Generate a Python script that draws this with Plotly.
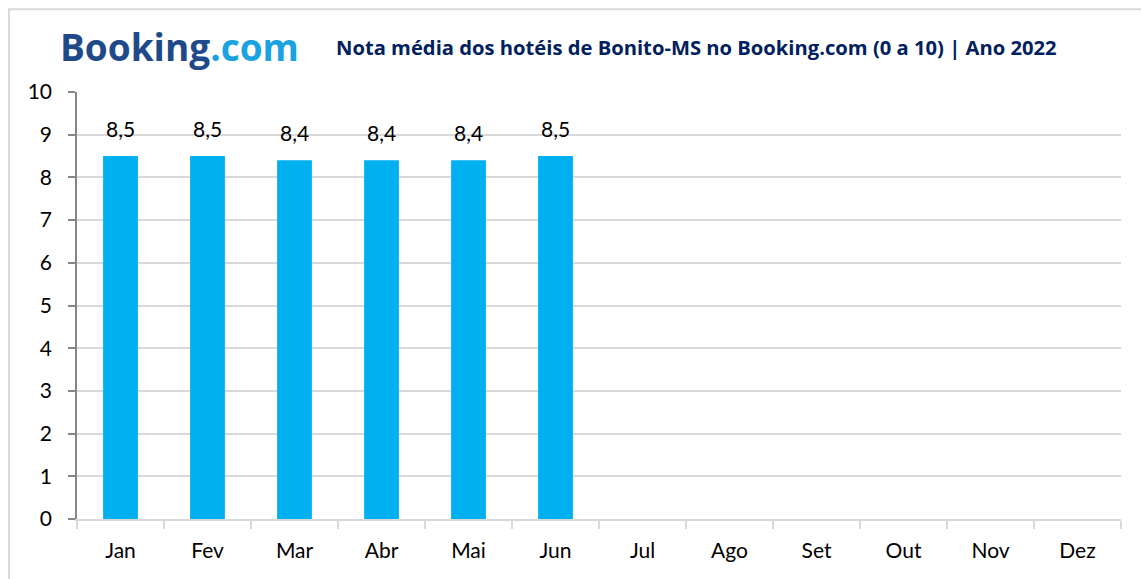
import plotly.graph_objects as go

months = ["Jan", "Fev", "Mar", "Abr", "Mai", "Jun", "Jul", "Ago", "Set", "Out", "Nov", "Dez"]
scores = [8.5, 8.5, 8.4, 8.4, 8.4, 8.5, None, None, None, None, None, None]
y_ticks = list(range(0, 11))
title_text = "Nota média dos hotéis de Bonito-MS no Booking.com (0 a 10) | Ano 2022"

FONT = "Lato"

fig = go.Figure()
fig.add_trace(go.Bar(
    x=months, y=scores,
    marker=dict(color="#00b0f0", line=dict(width=0)),
    width=0.4,
    hoverinfo="x+y",
))

annotations = []
for m, v in zip(months, scores):
    if v is None:
        continue
    annotations.append(dict(
        x=m, y=v, xref="x", yref="y",
        text=f"{v:.1f}".replace(".", ","),
        showarrow=False, yanchor="bottom", yshift=13,
        font=dict(family=FONT, size=21, color="#000000"),
    ))

# logo
annotations.append(dict(
    xref="paper", yref="paper", x=-0.018, y=1.106, xanchor="left", yanchor="middle",
    text="<b><span style='color:#1f4a8a'>Booking</span><span style='color:#1aa3e0'>.com</span></b>",
    showarrow=False, font=dict(family="Open Sans", size=37),
))
# title
annotations.append(dict(
    xref="paper", yref="paper", x=0.246, y=1.105, xanchor="left", yanchor="middle",
    text="<b>" + title_text + "</b>",
    showarrow=False, font=dict(family="Open Sans", size=20.2, color="#002060"),
))

fig.update_layout(
    width=1141, height=579,
    margin=dict(l=77, r=20, t=92, b=60),
    paper_bgcolor="white", plot_bgcolor="white",
    showlegend=False,
    annotations=annotations,
    font=dict(family=FONT, size=21, color="#000000"),
    shapes=[dict(
        type="rect", xref="paper", yref="paper",
        x0=-0.0651, x1=1.03, y0=-0.2, y1=1.194,
        line=dict(color="#d9d9d9", width=2), fillcolor="rgba(0,0,0,0)", layer="below",
    )],
)
fig.update_xaxes(
    categoryorder="array", categoryarray=months,
    showline=True, linecolor="#d9d9d9", linewidth=1.5,
    ticks="outside", tickson="boundaries", ticklen=8, tickcolor="#d9d9d9", tickwidth=1.5,
    showgrid=False, range=[-0.5, 11.5],
    ticklabelstandoff=12,
    tickfont=dict(family=FONT, size=21, color="#000000"),
)
fig.update_yaxes(
    range=[0, 10], tickvals=y_ticks,
    showline=True, linecolor="#868686", linewidth=1.5,
    ticks="outside", ticklen=7, tickcolor="#868686", tickwidth=1.5,
    showgrid=True, gridcolor="#d9d9d9", gridwidth=1.5,
    zeroline=False,
    ticklabelstandoff=12,
    tickfont=dict(family=FONT, size=21, color="#000000"),
)

fig.write_html("out.html", config={"displayModeBar": False},
               post_script="document.body.style.margin='0';")
